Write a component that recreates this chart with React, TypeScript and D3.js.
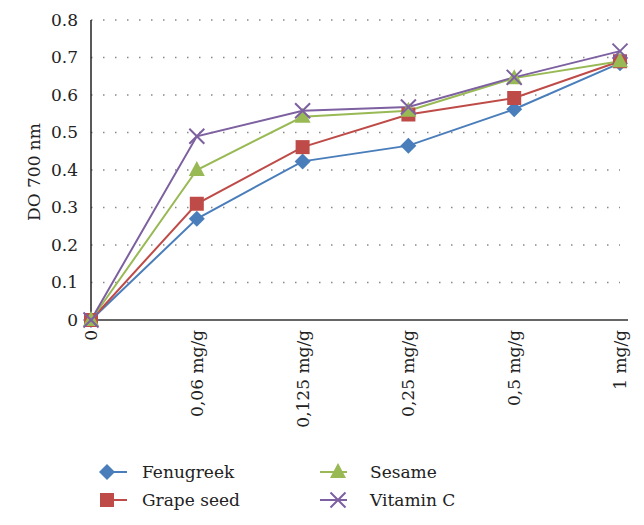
import React from "react";
import * as d3 from "d3";

const categories = ["0", "0,06 mg/g", "0,125 mg/g", "0,25 mg/g", "0,5 mg/g", "1 mg/g"];
const fenugreek = [0, 0.27, 0.423, 0.465, 0.562, 0.685];
const grapeSeed = [0, 0.31, 0.461, 0.548, 0.592, 0.69];
const sesame = [0, 0.4, 0.542, 0.558, 0.645, 0.69];
const vitaminC = [0, 0.49, 0.558, 0.568, 0.647, 0.717];
const yTicks = [0, 0.1, 0.2, 0.3, 0.4, 0.5, 0.6, 0.7, 0.8];
const seriesNames = ["Fenugreek", "Grape seed", "Sesame", "Vitamin C"];

const colors = ["#4a7ebb", "#be4b48", "#98b954", "#7d60a0"];
const shapes = ["diamond", "square", "triangle", "x"];
const FONT = "DejaVu Serif";
const textStyle = { fontFamily: FONT, fontSize: "17px" } as React.CSSProperties;

function Marker({ shape, x, y, color }: { shape: string; x: number; y: number; color: string }) {
  if (shape === "diamond") {
    const r = 8;
    return <path d={`M${x},${y - r}L${x + r},${y}L${x},${y + r}L${x - r},${y}Z`} fill={color} />;
  }
  if (shape === "square") {
    const s = 7;
    return <rect x={x - s} y={y - s} width={2 * s} height={2 * s} fill={color} />;
  }
  if (shape === "triangle") {
    return <path d={`M${x},${y - 9}L${x + 8},${y + 6}L${x - 8},${y + 6}Z`} fill={color} />;
  }
  const r = 7.5;
  return (
    <path
      d={`M${x - r},${y - r}L${x + r},${y + r}M${x - r},${y + r}L${x + r},${y - r}`}
      stroke={color}
      strokeWidth={2}
      fill="none"
    />
  );
}

export default function App() {
  const W = 644, H = 525;
  const left = 91, right = 620, top = 20, bottom = 320;
  const x = d3.scalePoint<string>().domain(categories).range([left, right]);
  const y = d3.scaleLinear().domain([0, 0.8]).range([bottom, top]);
  const data = [fenugreek, grapeSeed, sesame, vitaminC];
  const line = d3
    .line<number>()
    .x((_, i) => x(categories[i]) as number)
    .y((d) => y(d));

  const legendPos = [
    { x: 100, y: 472 },
    { x: 100, y: 500 },
    { x: 320, y: 472 },
    { x: 320, y: 500 },
  ];

  return (
    <svg width={W} height={H} style={{ position: "absolute", left: 0, top: 0 }}>
      <rect width={W} height={H} fill="#fff" />
      {yTicks.filter((t) => t > 0).map((t) => (
        <line
          key={t}
          x1={left}
          x2={right}
          y1={y(t)}
          y2={y(t)}
          stroke="#888"
          strokeWidth={1.3}
          strokeDasharray="1.5,10.5"
        />
      ))}
      <line x1={left} x2={left} y1={top} y2={bottom} stroke="#222" strokeWidth={1.5} />
      <line x1={left} x2={right + 8} y1={bottom} y2={bottom} stroke="#333" strokeWidth={1.5} />
      {yTicks.map((t) => (
        <text key={t} x={78} y={y(t)} dy="0.35em" textAnchor="end" style={textStyle} fill="#222">
          {t === 0 ? "0" : t.toFixed(1)}
        </text>
      ))}
      <text
        transform={`translate(40,${(top + bottom) / 2 + 2}) rotate(-90)`}
        textAnchor="middle"
        style={textStyle}
        fill="#222"
      >
        DO 700 nm
      </text>
      {categories.map((c) => (
        <text
          key={c}
          transform={`translate(${(x(c) as number) + 6},${bottom + 10}) rotate(-90)`}
          textAnchor="end"
          style={textStyle}
          fill="#222"
        >
          {c}
        </text>
      ))}
      {data.map((s, i) => (
        <path key={i} d={line(s) || ""} fill="none" stroke={colors[i]} strokeWidth={2} />
      ))}
      {data.map((s, i) =>
        s.map((v, j) => (
          <Marker key={`${i}-${j}`} shape={shapes[i]} x={x(categories[j]) as number} y={y(v)} color={colors[i]} />
        ))
      )}
      {seriesNames.map((n, i) => {
        const p = legendPos[i];
        return (
          <g key={n}>
            <line x1={p.x} x2={p.x + 27} y1={p.y} y2={p.y} stroke={colors[i]} strokeWidth={2} />
            <Marker shape={shapes[i]} x={p.x + (i < 2 ? 7 : 18)} y={p.y} color={colors[i]} />
            <text x={p.x + (i < 2 ? 42 : 50)} y={p.y} dy="0.35em" style={textStyle} fill="#222">
              {n}
            </text>
          </g>
        );
      })}
    </svg>
  );
}
